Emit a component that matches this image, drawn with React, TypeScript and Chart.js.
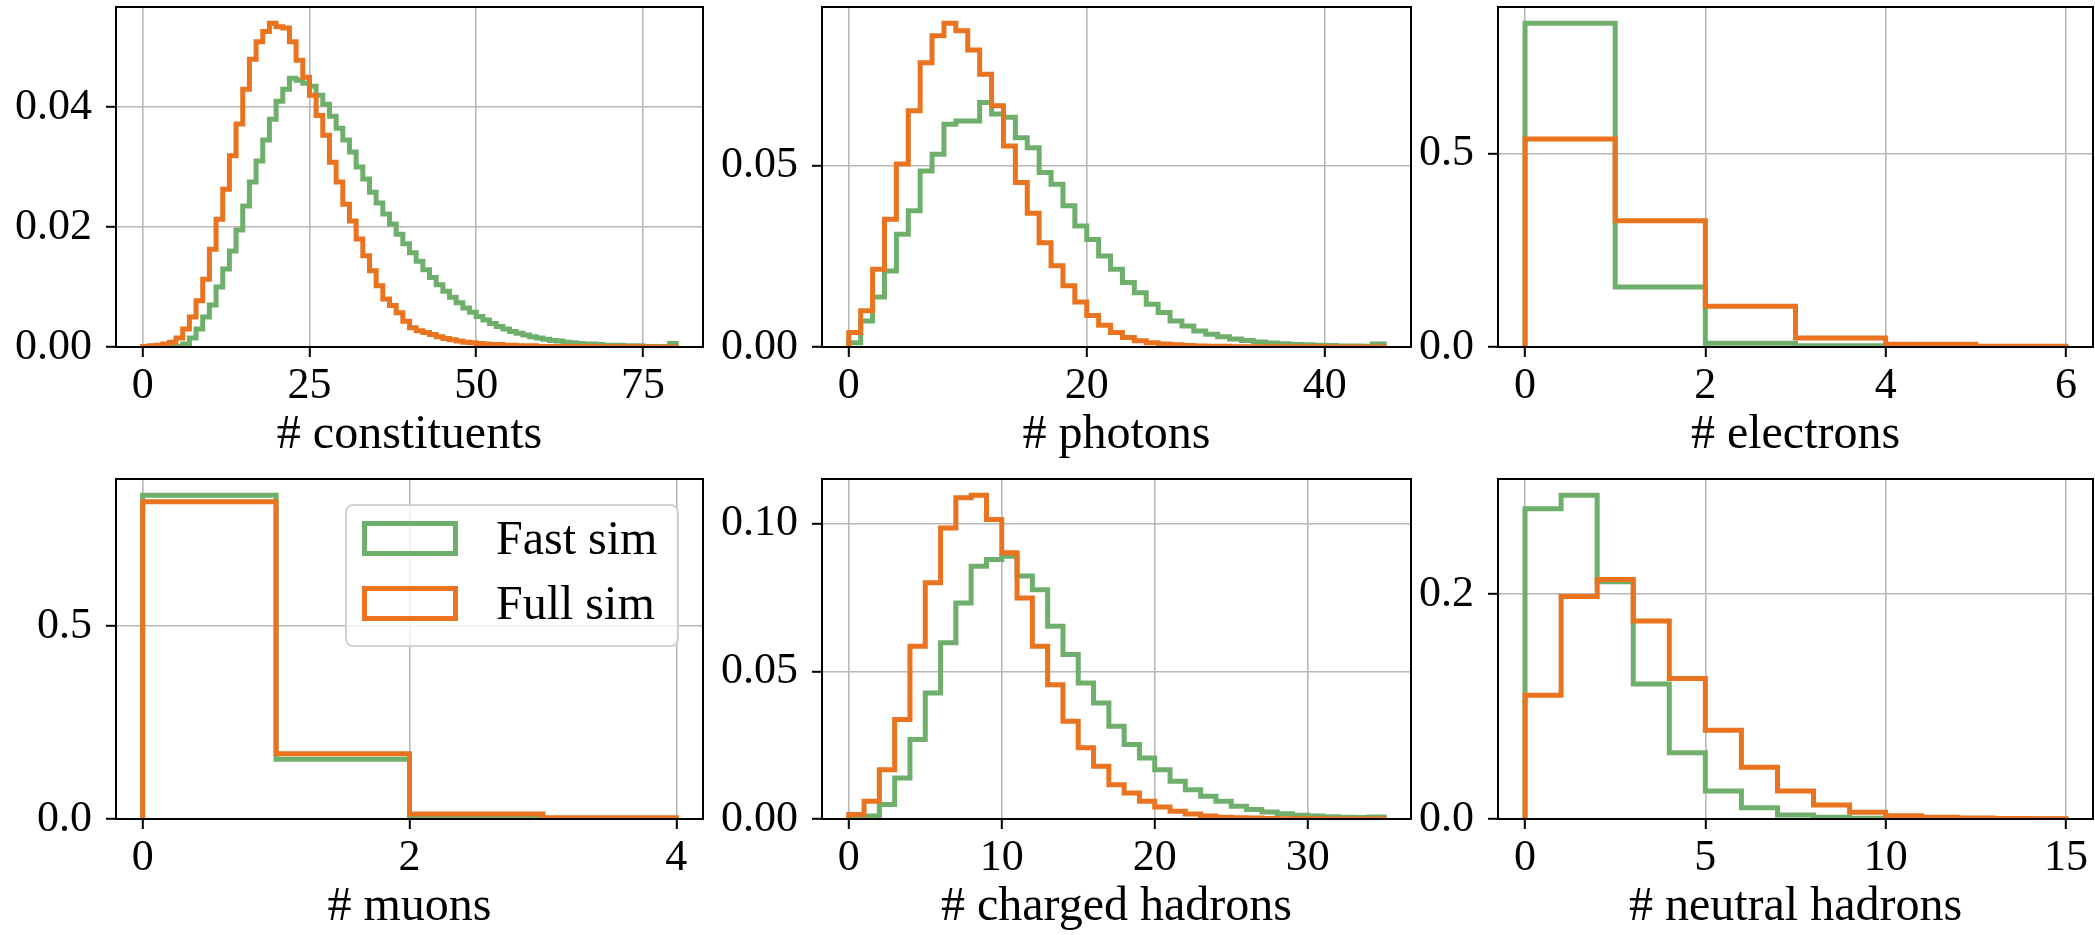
import React, { useEffect, useRef } from 'react';
import { Chart, registerables } from 'chart.js';

Chart.register(...registerables);

const FONT = "'Liberation Serif', 'Times New Roman', serif";
const GREEN = '#6eb06b';
const ORANGE = '#e9731f';

// ---------- data (normalised bin contents, unit-width bins starting at 0) ----------
const constituentsFast = [
  0, 0, 0, 0, 0, 0.0001, 0.0005, 0.0015, 0.0030, 0.0050,
  0.0070, 0.0100, 0.0130, 0.0160, 0.0195, 0.0235, 0.0275, 0.0310, 0.0345, 0.0380,
  0.0410, 0.0430, 0.0448, 0.0445, 0.0440, 0.0435, 0.0420, 0.0405, 0.0385, 0.0365,
  0.0345, 0.0325, 0.0300, 0.0280, 0.0258, 0.0240, 0.0222, 0.0205, 0.0188, 0.0172,
  0.0157, 0.0143, 0.0129, 0.0116, 0.0104, 0.0093, 0.0083, 0.0074, 0.0065, 0.0058,
  0.0051, 0.0045, 0.0039, 0.0034, 0.0030, 0.0026, 0.0023, 0.0020, 0.0017, 0.0015,
  0.0013, 0.0011, 0.0010, 0.0008, 0.0007, 0.0006, 0.0005, 0.0005, 0.0004, 0.0003,
  0.0003, 0.0003, 0.0002, 0.0002, 0.0002, 0.0001, 0.0001, 0.0001, 0.0001, 0.0006,
];
const constituentsFull = [
  0.0001, 0.0002, 0.0003, 0.0005, 0.0008, 0.0015, 0.0030, 0.0050, 0.0077, 0.0113,
  0.0163, 0.0213, 0.0263, 0.0319, 0.0372, 0.0430, 0.0480, 0.0509, 0.0526, 0.0540,
  0.0534, 0.0532, 0.0509, 0.0478, 0.0450, 0.0420, 0.0386, 0.0353, 0.0308, 0.0275,
  0.0238, 0.0210, 0.0180, 0.0152, 0.0127, 0.0102, 0.0080, 0.0069, 0.0057, 0.0043,
  0.0032, 0.0027, 0.0024, 0.0021, 0.0017, 0.0014, 0.0012, 0.0010, 0.0008, 0.0007,
  0.0006, 0.0005, 0.0004, 0.0004, 0.0003, 0.0003, 0.0002, 0.0002, 0.0002, 0.0001,
  0.0001, 0.0001, 0.0001, 0.0001, 0.0001, 0.0001, 0.00008, 0.00007, 0.00006, 0.00005,
  0.00005, 0.00004, 0.00004, 0.00003, 0.00003, 0.00003, 0.00002, 0.00002, 0.00002, 0.00002,
];

const photonsFast = [
  0.0012, 0.0072, 0.0138, 0.0210, 0.0311, 0.0376, 0.0486, 0.0532, 0.0615, 0.0624,
  0.0624, 0.0675, 0.0643, 0.0634, 0.0578, 0.0550, 0.0482, 0.0449, 0.0390, 0.0334,
  0.0297, 0.0251, 0.0215, 0.0178, 0.0150, 0.0118, 0.0095, 0.0072, 0.0058, 0.0044,
  0.0035, 0.0028, 0.0022, 0.0018, 0.0014, 0.0011, 0.0009, 0.0007, 0.0006, 0.0005,
  0.0004, 0.0003, 0.0003, 0.0002, 0.0008,
];
const photonsFull = [
  0.0040, 0.0100, 0.0215, 0.0353, 0.0505, 0.0652, 0.0785, 0.0859, 0.0894, 0.0873,
  0.0820, 0.0753, 0.0666, 0.0555, 0.0454, 0.0369, 0.0288, 0.0224, 0.0169, 0.0124,
  0.0087, 0.0060, 0.0040, 0.0026, 0.0017, 0.0012, 0.0008, 0.0006, 0.0004, 0.0003,
  0.0002, 0.0002, 0.0001, 0.0001, 0.0001, 0.0001, 0.00005, 0.00005, 0.00005, 0.00004,
  0.00003, 0.00003, 0.00002, 0.00002, 0.00002,
];

const electronsFast = [0.836, 0.155, 0.010, 0.0035, 0.001, 0.0003];
const electronsFull = [0.537, 0.326, 0.105, 0.023, 0.007, 0.002];

const muonsFast = [0.840, 0.155, 0.004, 0.0005];
const muonsFull = [0.823, 0.169, 0.013, 0.003];

const chargedFast = [
  0.0002, 0.0010, 0.0049, 0.0139, 0.0269, 0.0427, 0.0597, 0.0732, 0.0856, 0.0879,
  0.0890, 0.0823, 0.0777, 0.0653, 0.0557, 0.0461, 0.0393, 0.0314, 0.0252, 0.0207,
  0.0167, 0.0128, 0.0099, 0.0077, 0.0060, 0.0043, 0.0032, 0.0024, 0.0018, 0.0013,
  0.0010, 0.0008, 0.0006, 0.0005, 0.0007,
];
const chargedFull = [
  0.0015, 0.0060, 0.0167, 0.0337, 0.0585, 0.0800, 0.0986, 0.1088, 0.1097, 0.1015,
  0.0902, 0.0749, 0.0585, 0.0455, 0.0331, 0.0241, 0.0179, 0.0116, 0.0088, 0.0060,
  0.0041, 0.0026, 0.0017, 0.0010, 0.0006, 0.0004, 0.0003, 0.0002, 0.0001, 0.0001,
  0.00005, 0.00004, 0.00003, 0.00002, 0.00002,
];

const neutralFast = [0.276, 0.288, 0.211, 0.120, 0.059, 0.025, 0.010, 0.0036, 0.0015, 0.0006, 0.0002, 0.0001, 0.00005, 0.00003, 0.00002];
const neutralFull = [0.110, 0.198, 0.213, 0.176, 0.125, 0.079, 0.046, 0.025, 0.0125, 0.006, 0.003, 0.0015, 0.0008, 0.0004, 0.0002];

const xLabels = ['# constituents', '# photons', '# electrons', '# muons', '# charged hadrons', '# neutral hadrons'];
const xTickSteps = [25, 20, 2, 2, 10, 5];
const yTickSteps = [0.02, 0.05, 0.5, 0.5, 0.05, 0.2];
const yTickDecimals = [2, 2, 1, 1, 2, 1];
const legendLabels = ['Fast sim', 'Full sim'];

const fastSeries = [constituentsFast, photonsFast, electronsFast, muonsFast, chargedFast, neutralFast];
const fullSeries = [constituentsFull, photonsFull, electronsFull, muonsFull, chargedFull, neutralFull];

// ---------- layout ----------
const PANEL_BOXES = [
  { left: 116, right: 703, top: 7, bottom: 347, axisW: 112 },
  { left: 822, right: 1411, top: 7, bottom: 347, axisW: 112 },
  { left: 1498, right: 2093, top: 7, bottom: 347, axisW: 90 },
  { left: 116, right: 703, top: 479, bottom: 819, axisW: 112 },
  { left: 822, right: 1411, top: 479, bottom: 819, axisW: 112 },
  { left: 1498, right: 2093, top: 479, bottom: 819, axisW: 90 },
];
const PAD_TOP = 44;
const PAD_RIGHT = 12;
const X_AXIS_H = 115;
const LINE_W = 5;

function toSteps(vals: number[]) {
  const pts: { x: number; y: number }[] = [{ x: 0, y: 0 }];
  vals.forEach((v, i) => pts.push({ x: i, y: v }));
  pts.push({ x: vals.length, y: 0 });
  return pts;
}

const framePlugin = {
  id: 'frame',
  afterDatasetsDraw(chart: any) {
    const { ctx, chartArea: a } = chart;
    ctx.save();
    ctx.strokeStyle = '#000';
    ctx.lineWidth = 2;
    ctx.strokeRect(a.left, a.top, a.right - a.left, a.bottom - a.top);
    ctx.restore();
  },
};

function Panel({ idx }: { idx: number }) {
  const ref = useRef<HTMLCanvasElement>(null);
  const box = PANEL_BOXES[idx];
  const w = box.axisW + (box.right - box.left) + PAD_RIGHT;
  const h = PAD_TOP + (box.bottom - box.top) + X_AXIS_H;

  useEffect(() => {
    const fast = fastSeries[idx];
    const full = fullSeries[idx];
    const n = fast.length;
    const ymax = Math.max(...fast, ...full) * 1.05;
    const dec = yTickDecimals[idx];
    const tickFont = { family: FONT, size: 44, lineHeight: 1 };
    const chart = new Chart(ref.current as HTMLCanvasElement, {
      type: 'line',
      data: {
        datasets: [
          {
            label: legendLabels[0],
            data: toSteps(fast),
            borderColor: GREEN,
            borderWidth: LINE_W,
            stepped: 'before',
            pointRadius: 0,
            fill: false,
            order: 2,
            borderJoinStyle: 'miter',
          },
          {
            label: legendLabels[1],
            data: toSteps(full),
            borderColor: ORANGE,
            borderWidth: LINE_W,
            stepped: 'before',
            pointRadius: 0,
            fill: false,
            order: 1,
            borderJoinStyle: 'miter',
          },
        ],
      } as any,
      options: {
        animation: false,
        responsive: false,
        devicePixelRatio: 1,
        events: [],
        layout: { padding: { top: PAD_TOP, right: PAD_RIGHT, left: 0, bottom: 0 } },
        plugins: { legend: { display: false }, tooltip: { enabled: false } },
        scales: {
          x: {
            type: 'linear',
            min: -0.05 * n,
            max: 1.05 * n,
            afterFit: (s: any) => {
              s.height = X_AXIS_H;
            },
            border: { display: false },
            grid: {
              color: '#b8b8b8',
              lineWidth: 1.6,
              drawTicks: true,
              tickLength: 10,
              tickColor: '#000',
              tickWidth: 2,
            },
            ticks: {
              stepSize: xTickSteps[idx],
              includeBounds: false,
              autoSkip: false,
              maxRotation: 0,
              padding: 7,
              color: '#000',
              font: tickFont,
              callback: (v: any) => Number(v).toFixed(0),
            },
            title: {
              display: true,
              text: xLabels[idx],
              color: '#000',
              font: { family: FONT, size: 48, lineHeight: 1.1 },
              padding: 0,
            },
          },
          y: {
            type: 'linear',
            min: 0,
            max: ymax,
            afterFit: (s: any) => {
              s.width = box.axisW;
            },
            border: { display: false },
            grid: {
              color: '#b8b8b8',
              lineWidth: 1.6,
              drawTicks: true,
              tickLength: 10,
              tickColor: '#000',
              tickWidth: 2,
            },
            ticks: {
              stepSize: yTickSteps[idx],
              includeBounds: false,
              padding: 14,
              color: '#000',
              font: tickFont,
              callback: (v: any) => Number(v).toFixed(dec),
            },
          },
        },
      } as any,
      plugins: [framePlugin],
    });
    return () => chart.destroy();
  }, [idx]);

  return (
    <canvas
      ref={ref}
      width={w}
      height={h}
      style={{ position: 'absolute', left: box.left - box.axisW, top: box.top - PAD_TOP, width: w, height: h }}
    />
  );
}

function Legend() {
  const textStyle: React.CSSProperties = {
    position: 'absolute',
    left: 149,
    height: 48,
    lineHeight: '48px',
    fontSize: 48,
    fontFamily: FONT,
    color: '#000',
    whiteSpace: 'nowrap',
  };
  const handle = (color: string, top: number): React.CSSProperties => ({
    position: 'absolute',
    left: 15,
    top,
    width: 96,
    height: 35,
    boxSizing: 'border-box',
    border: `${LINE_W}px solid ${color}`,
  });
  return (
    <div
      style={{
        position: 'absolute',
        left: 345,
        top: 504,
        width: 334,
        height: 143,
        boxSizing: 'border-box',
        border: '2px solid rgba(200,200,200,0.8)',
        borderRadius: 8,
        background: 'rgba(255,255,255,0.8)',
      }}
    >
      <div style={handle(GREEN, 15)} />
      <div style={{ ...textStyle, top: 8 }}>{legendLabels[0]}</div>
      <div style={handle(ORANGE, 80)} />
      <div style={{ ...textStyle, top: 73 }}>{legendLabels[1]}</div>
    </div>
  );
}

export default function App() {
  return (
    <div
      style={{
        position: 'absolute',
        left: 0,
        top: 0,
        width: 2095,
        height: 935,
        overflow: 'hidden',
        background: '#fff',
      }}
    >
      {PANEL_BOXES.map((_, i) => (
        <Panel key={i} idx={i} />
      ))}
      <Legend />
    </div>
  );
}
